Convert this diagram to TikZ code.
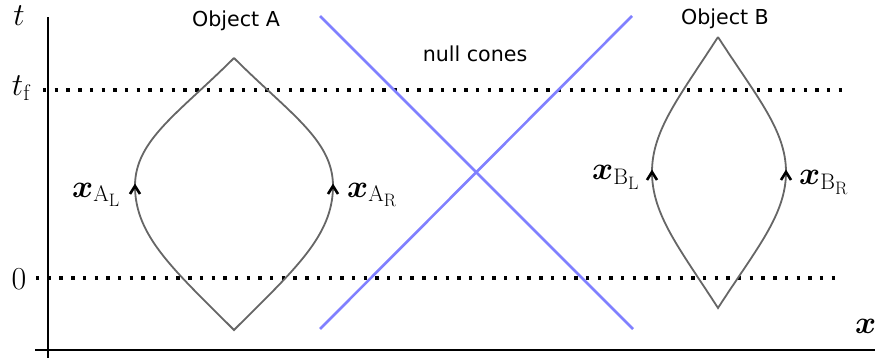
\RequirePackage{fix-cm}
\documentclass[tikz,border=0pt]{standalone}
\usepackage{amsmath,bm}
\usepackage{fontspec}
\newfontfamily\objfont{DejaVu Sans}
\DeclareMathSizes{32}{32}{22.5}{18}
\usetikzlibrary{arrows.meta}
\begin{document}
\begin{tikzpicture}[x=1pt,y=-1pt,
  world/.style={draw=black!60, line width=1.8pt},
  cone/.style={draw=blue!50, line width=2.6pt},
  axisline/.style={draw=black, line width=1.3pt},
  dotline/.style={draw=black, line width=3.4pt, dash pattern=on 3.4pt off 8.3pt},
  chev/.style={draw=black, line width=2.6pt, line join=miter},
  objlabel/.style={font=\objfont\fontsize{20.6}{24}\selectfont, anchor=base, inner sep=0pt},
  mlab/.style={font=\fontsize{32}{36}\selectfont, inner sep=0pt}
]
\useasboundingbox (0,0) rectangle (875,358);

% axes
\coordinate (xa0) at (35,350);
\coordinate (xa1) at (875,350);
\coordinate (ta0) at (48,358);
\coordinate (ta1) at (48,17);
\draw[axisline] (xa0) -- (xa1);
\draw[axisline] (ta0) -- (ta1);

% dotted levels
\coordinate (tf0) at (43,90);
\coordinate (tf1) at (845,90);
\coordinate (z0) at (36,278);
\coordinate (z1) at (842,278);
\draw[dotline] (tf0) -- (tf1);
\draw[dotline] (z0) -- (z1);

% null cones
\coordinate (c1a) at (320,16);
\coordinate (c1b) at (633,329);
\coordinate (c2a) at (632,16);
\coordinate (c2b) at (320,329);
\draw[cone] (c1a) -- (c1b);
\draw[cone] (c2a) -- (c2b);

% object A
\coordinate (Atop) at (234,58);
\coordinate (Abot) at (234,330);
\coordinate (AL) at (135,186);
\coordinate (AR) at (333,186);
\draw[world] (Atop) .. controls (179,113) and (135,140) .. (AL)
  .. controls (135,236) and (174,270) .. (Abot)
  .. controls (294,270) and (333,236) .. (AR)
  .. controls (333,140) and (289,113) .. (Atop);

% object B
\coordinate (Btop) at (718,37);
\coordinate (Bbot) at (718,308);
\coordinate (BL) at (652,172);
\coordinate (BR) at (786,172);
\draw[world] (Btop) .. controls (680,96) and (652,130) .. (BL)
  .. controls (652,215) and (680,249) .. (Bbot)
  .. controls (756,249) and (786,215) .. (BR)
  .. controls (786,130) and (756,96) .. (Btop);

% direction marks (upward chevrons)
\draw[chev] (AL) +(-5,8) -- (AL) -- +(5,8);
\draw[chev] (AR) +(-5,8) -- (AR) -- +(5,8);
\draw[chev] (BL) +(-5,8) -- (BL) -- +(5,8);
\draw[chev] (BR) +(-5,8) -- (BR) -- +(5,8);

% labels
\node[objlabel] (objA) at (236,27) {Object A};
\node[objlabel] (objB) at (725,25) {Object B};
\node[objlabel] (nullc) at (475,62) {null cones};

\node[mlab, anchor=base] (tlab) at (19,26) {$t$};
\node[mlab, anchor=base] (tflab) at (21,96) {$t_{\mathrm{f}}$};
\node[mlab, anchor=base] (zlab) at (19,289) {$0$};
\node[mlab, anchor=base west] (xlab) at (855,333) {$\bm{x}$};

\node[mlab, anchor=base west] (xAL) at (72,197) {$\bm{x}_{\mathrm{A}_{\mathrm{L}}}$};
\node[mlab, anchor=base west] (xAR) at (347,197) {$\bm{x}_{\mathrm{A}_{\mathrm{R}}}$};
\node[mlab, anchor=base west] (xBL) at (592,180) {$\bm{x}_{\mathrm{B}_{\mathrm{L}}}$};
\node[mlab, anchor=base west] (xBR) at (799,185) {$\bm{x}_{\mathrm{B}_{\mathrm{R}}}$};
\end{tikzpicture}
\end{document}
